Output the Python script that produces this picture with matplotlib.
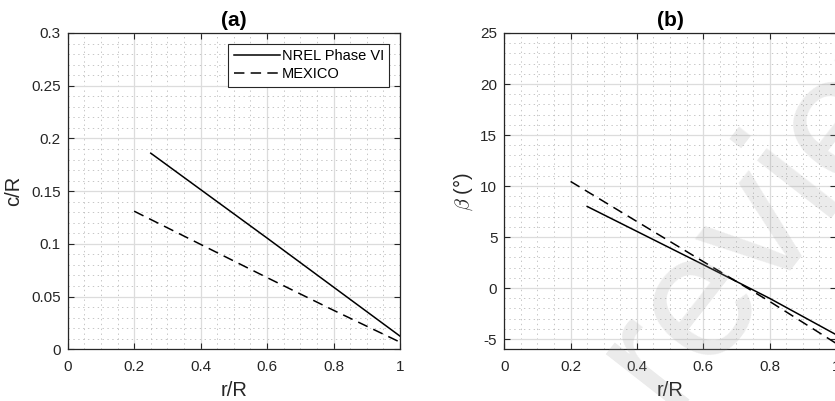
import matplotlib
matplotlib.use("Agg")
import matplotlib.pyplot as plt
from matplotlib.ticker import MultipleLocator, FuncFormatter

# ---- data ----
r_nrel = [0.25, 0.6, 0.8, 1.0]
c_nrel = [0.186, 0.1055, 0.059, 0.0125]
r_mex = [0.2, 0.6, 0.8, 1.0]
c_mex = [0.131, 0.068, 0.037, 0.0068]

beta_nrel = [8.0, 2.3, -1.0, -4.55]
beta_mex = [10.45, 2.6, -1.3, -5.4]

labels = ["NREL Phase VI", "MEXICO"]

plt.rcParams['font.family'] = ['Liberation Sans', 'DejaVu Sans']
plt.rcParams['mathtext.fontset'] = 'cm'
plt.rcParams['lines.scale_dashes'] = False

W, H = 835, 401
fig = plt.figure(figsize=(W / 100, H / 100), dpi=100)

axc = '#262626'

def fmt(v, pos):
    s = ('%.2f' % v).rstrip('0').rstrip('.')
    if s == '-0':
        s = '0'
    return s

def style(ax, xmaj, xmin, ymaj, ymin):
    ax.xaxis.set_major_locator(MultipleLocator(xmaj))
    ax.xaxis.set_minor_locator(MultipleLocator(xmin))
    ax.yaxis.set_major_locator(MultipleLocator(ymaj))
    ax.yaxis.set_minor_locator(MultipleLocator(ymin))
    ax.xaxis.set_major_formatter(FuncFormatter(fmt))
    ax.yaxis.set_major_formatter(FuncFormatter(fmt))
    ax.grid(which='major', color='#dcdcdc', lw=0.9, ls='-')
    ax.grid(which='minor', color='#bdbdbd', lw=0.6, ls=(0, (1, 2.5)))
    ax.set_axisbelow(True)
    ax.tick_params(which='both', direction='in', top=True, right=True,
                   colors=axc, labelcolor='#262626', labelsize=11)
    ax.tick_params(axis='x', which='major', pad=8)
    ax.tick_params(axis='y', which='major', pad=5)
    ax.tick_params(which='major', length=4.5, width=0.8)
    ax.tick_params(which='minor', length=0)
    for s in ax.spines.values():
        s.set_color(axc)
        s.set_linewidth(0.9)

solid = '-'
dashed = (0, (7.5, 4.5))

# left axes
ax1 = fig.add_axes([67.7 / W, 1 - 349.3 / H, 332.3 / W, 316.3 / H])
ax1.plot(r_nrel, c_nrel, color='k', lw=1.1, ls=solid, label=labels[0])
ax1.plot(r_mex, c_mex, color='k', lw=1.1, ls=dashed, label=labels[1])
ax1.set_xlim(0, 1)
ax1.set_ylim(0, 0.3)
style(ax1, 0.2, 0.05, 0.05, 0.01)
ax1.set_xlabel('r/R', fontsize=14.5, color='#262626', labelpad=5)
ax1.set_ylabel('c/R', fontsize=14.5, color='#262626', labelpad=6)
ax1.set_title('(a)', fontsize=15, fontweight='bold', pad=5)
leg = ax1.legend(loc='upper right', fontsize=10.5, frameon=True, fancybox=False,
                 edgecolor='#262626', framealpha=1, handlelength=3.2,
                 handletextpad=0.1, borderpad=0.35, labelspacing=0.3,
                 borderaxespad=0.75)
leg.get_frame().set_linewidth(0.8)

# right axes
ax2 = fig.add_axes([504.3 / W, 1 - 349.3 / H, 331.5 / W, 316.3 / H])
ax2.plot(r_nrel, beta_nrel, color='k', lw=1.1, ls=solid)
ax2.plot(r_mex, beta_mex, color='k', lw=1.1, ls=dashed)
ax2.set_xlim(0, 1)
ax2.set_ylim(-6, 25)
style(ax2, 0.2, 0.05, 5, 1)
ax2.set_xlabel('r/R', fontsize=14.5, color='#262626', labelpad=5)
ax2.set_ylabel(r'$\beta$ (°)', fontsize=14.5, color='#262626', labelpad=4)
ax2.set_title('(b)', fontsize=15, fontweight='bold', pad=5)

# watermark
fig.text(668 / W, 1 - 412 / H, 'review', rotation=52, fontsize=128,
         color='#9a9a9a', alpha=0.2, ha='left', va='baseline',
         rotation_mode='anchor', zorder=10)

fig.savefig('out.png', dpi=100)
